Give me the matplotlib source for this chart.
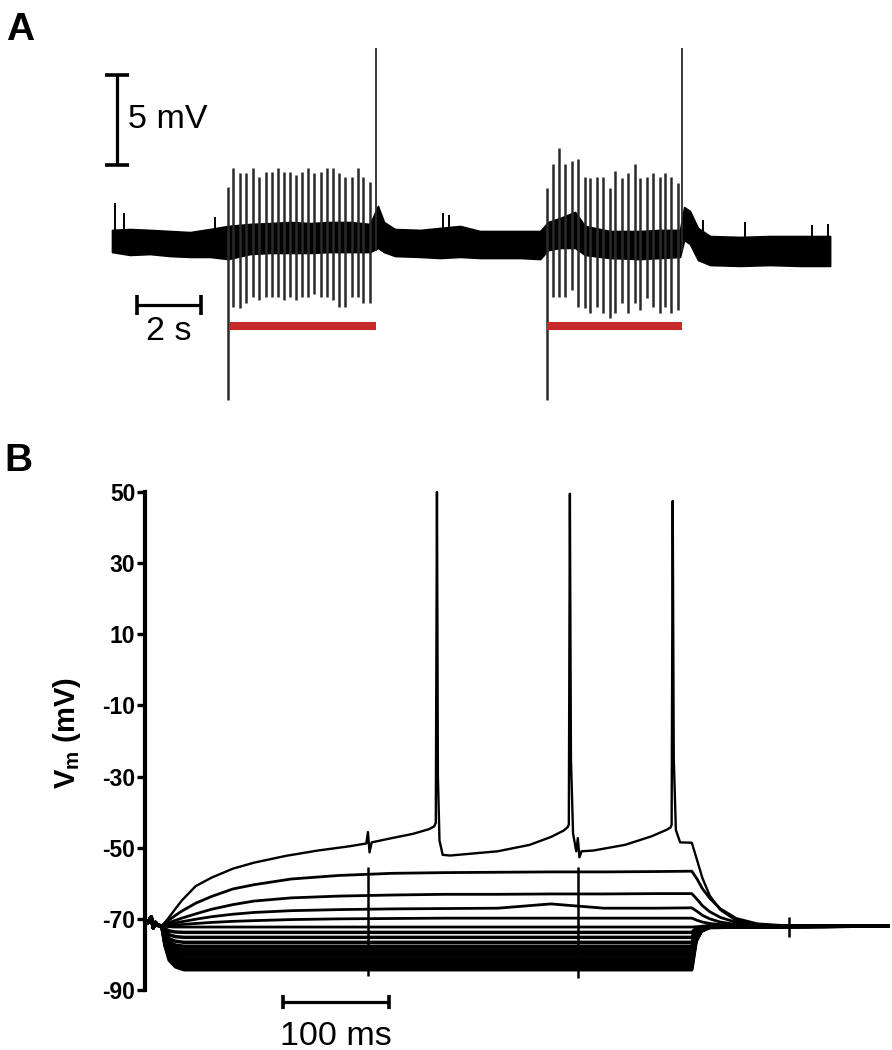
import numpy as np
import matplotlib
matplotlib.use('Agg')
import matplotlib.pyplot as plt

plt.rcParams['font.family'] = ['Liberation Sans', 'DejaVu Sans']
plt.rcParams['mathtext.fontset'] = 'custom'
plt.rcParams['mathtext.rm'] = 'Liberation Sans:bold'
plt.rcParams['mathtext.bf'] = 'Liberation Sans:bold'
plt.rcParams['mathtext.it'] = 'Liberation Sans:bold'

# ---------------- Panel A data (time in s, voltage in mV relative to baseline) ----
A_ENV_T = [0, 0.56, 1.19, 1.81, 2.44, 3.06, 3.63, 4.31, 4.94, 5.56, 6.19, 6.81, 7.44, 8.06,
           8.31, 8.5, 8.84, 9.63, 10.25, 10.88, 11.5, 12.13, 12.75, 13.38, 13.63, 14.0, 14.47,
           14.78, 15.56, 16.5, 17.13, 17.75, 17.88, 18.06, 18.31, 18.69, 19.63, 20.56, 21.5, 22.44]
A_ENV_HI = [0.56, 0.61, 0.56, 0.5, 0.44, 0.61, 0.78, 0.89, 0.94, 1.0, 0.94, 1.0, 1.0, 0.89,
            1.89, 1.0, 0.61, 0.56, 0.67, 0.78, 0.5, 0.5, 0.5, 0.5, 1.0, 1.22, 1.56,
            0.78, 0.5, 0.5, 0.56, 0.56, 1.83, 1.61, 0.67, 0.22, 0.17, 0.22, 0.22, 0.22]
A_ENV_LO = [-0.67, -0.83, -0.78, -0.89, -0.94, -0.94, -1.06, -0.78, -0.72, -0.72, -0.72, -0.67,
            -0.67, -0.67, -0.44, -0.67, -0.89, -0.94, -1.0, -0.94, -1.0, -1.0, -1.0, -1.06,
            -0.56, -0.44, -0.44, -0.83, -1.0, -1.06, -1.0, -0.94, 0.0, -0.22, -1.11, -1.39,
            -1.44, -1.39, -1.44, -1.44]

NOISE_T = [0.09, 0.38, 3.22, 10.34, 10.53, 18.47, 19.78, 21.88, 22.38]
NOISE_TOP = [2.06, 1.5, 1.28, 1.5, 1.39, 1.11, 1.0, 0.83, 0.89]

TRAIN1_T = [3.64, 3.79, 4.00, 4.19, 4.42, 4.60, 4.80, 4.99, 5.18, 5.38, 5.56, 5.75,
            5.94, 6.13, 6.32, 6.52, 6.71, 6.90, 7.10, 7.29, 7.49, 7.68, 7.85, 8.06]
TRAIN1_TOP = [2.94, 4.0, 3.72, 3.72, 4.0, 3.5, 3.78, 3.78, 4.0, 3.78, 3.78, 3.61,
              3.78, 4.0, 3.72, 3.78, 4.0, 4.0, 3.72, 3.52, 3.52, 4.0, 3.52, 3.24]
TRAIN1_BOT = [-8.89, -3.72, -3.78, -3.5, -3.17, -3.33, -3.17, -3.17, -3.17, -3.33, -3.17, -3.33,
              -3.17, -3.17, -3.0, -3.17, -3.17, -3.33, -3.72, -3.72, -3.17, -3.17, -3.5, -3.5]

TRAIN2_T = [13.60, 13.77, 13.98, 14.16, 14.38, 14.55, 14.77, 14.94, 15.15, 15.33, 15.55,
            15.73, 15.93, 16.12, 16.34, 16.51, 16.73, 16.90, 17.11, 17.29, 17.48, 17.69]
TRAIN2_TOP = [2.89, 4.22, 5.11, 4.22, 4.39, 4.5, 3.5, 3.44, 3.5, 3.5, 2.89,
              3.83, 3.44, 3.72, 4.22, 3.44, 3.5, 3.72, 3.5, 3.72, 3.5, 3.17]
TRAIN2_BOT = [-8.89, -3.17, -3.17, -3.17, -2.78, -3.72, -3.78, -4.06, -3.72, -4.06, -4.33,
              -4.06, -3.5, -4.06, -3.5, -3.89, -3.22, -3.72, -4.06, -3.72, -4.06, -3.89]

TALL_T = [8.25, 17.80]
TALL_TOP = [10.67, 10.67]
TALL_BOT = [-0.6, -0.6]

STIM_ON = [3.66, 13.59]
STIM_OFF = [8.25, 17.81]
STIM_LEVEL = -4.78

SCALE_MV = 5
SCALE_S = 2

# ---------------- Panel B data (time in ms, Vm in mV) ----------------
B_TICKS = [50, 30, 10, -10, -30, -50, -70, -90]
B_TICK_LABELS = ['50', '30', '10', '-10', '-30', '-50', '-70', '-90']

PRE_T = [0, 3, 5, 7, 9, 13]
PRE_V = [-71, -69.5, -72.5, -71, -71.8, -72]
END_T = [698]
END_V = [-72]

TOP_T = [16, 20, 25, 32, 45, 60, 80, 100, 130, 160, 190, 206, 207.5, 209, 211, 230, 250,
         265, 270, 271.5, 272.6, 273.5, 275, 278, 285, 300, 330, 360, 380, 392, 396, 397,
         398, 399, 401, 404, 405.5, 407, 409, 420, 450, 475, 489, 493, 494, 495, 496, 498,
         502, 513, 518, 523, 530, 540, 555, 575, 600, 650]
TOP_V = [-71, -69.5, -67.5, -64.8, -60.8, -58.4, -55.9, -54.2, -52.3, -50.8, -49.6, -48.8,
         -45.6, -51.3, -48.5, -47.3, -46.1, -44.8, -44.0, -43.0, 50, -30, -48, -52, -52.2,
         -51.8, -51, -49.2, -47, -45.2, -44.2, -43.5, 49.5, -25, -46, -51, -47.3, -52.7,
         -51, -50.8, -49.2, -46.8, -45, -44.3, -43.5, 47.5, -25, -45, -48.5, -48.6, -53.5,
         -58.5, -63.5, -67.5, -70.5, -71.6, -72, -72]

DEP_T = [16, 20, 25, 32, 45, 60, 80, 100, 135, 180, 230, 280, 330, 380, 430, 480, 513,
         518, 523, 530, 540, 555, 575, 600]
DEP_V = [
    [-71.2, -70.3, -69.2, -67.8, -65.6, -63.7, -61.6, -60.4, -58.8, -57.8, -57.2, -57.0,
     -56.9, -56.8, -56.8, -56.7, -56.6, -58.8, -61.5, -64.2, -67.2, -69.9, -71.4, -71.9],
    [-71.6, -71.1, -70.5, -69.8, -68.6, -67.3, -66.0, -65.0, -64.1, -63.6, -63.3, -63.1,
     -63.1, -63.0, -63.0, -62.9, -62.9, -64.5, -66.3, -68.0, -69.6, -71.0, -71.7, -72.0],
    [-71.8, -71.5, -71.2, -70.8, -70.1, -69.4, -68.7, -68.2, -67.7, -67.4, -67.2, -67.1,
     -67.0, -65.8, -67.0, -67.0, -66.9, -67.9, -69.0, -70.0, -70.9, -71.6, -71.9, -72.0],
    [-72.0, -71.9, -71.8, -71.6, -71.3, -71.0, -70.7, -70.5, -70.2, -70.0, -69.9, -69.8,
     -69.8, -69.8, -69.8, -69.8, -69.8, -70.4, -70.9, -71.3, -71.6, -71.9, -72.0, -72.0],
    [-72.1, -72.2, -72.3, -72.3, -72.3, -72.3, -72.3, -72.3, -72.3, -72.3, -72.3, -72.3,
     -72.3, -72.3, -72.3, -72.3, -72.3, -72.2, -72.1, -72.0, -72.0, -72.0, -72.0, -72.0],
]

HYP_T = [16, 20, 26, 34, 513, 517, 522, 530]
HYP_V = [
    [-72.8, -73.4, -73.7, -73.8, -73.8, -72.7, -72.2, -72.0],
    [-73.4, -74.5, -75.0, -75.2, -75.2, -73.2, -72.4, -72.1],
    [-74.1, -75.6, -76.3, -76.6, -76.6, -73.8, -72.6, -72.1],
    [-74.6, -76.5, -77.4, -77.7, -77.7, -74.2, -72.7, -72.2],
    [-75.0, -77.2, -78.2, -78.6, -78.6, -74.5, -72.8, -72.2],
    [-75.3, -77.8, -79.0, -79.4, -79.4, -74.8, -72.9, -72.2],
    [-75.7, -78.4, -79.7, -80.2, -80.2, -75.0, -73.0, -72.3],
    [-76.0, -79.0, -80.5, -81.0, -81.0, -75.3, -73.1, -72.3],
    [-76.3, -79.5, -81.1, -81.7, -81.7, -75.5, -73.2, -72.3],
    [-76.6, -80.1, -81.8, -82.4, -82.4, -75.8, -73.3, -72.3],
    [-76.9, -80.6, -82.4, -83.1, -83.1, -76.0, -73.3, -72.4],
    [-77.2, -81.1, -83.0, -83.7, -83.7, -76.2, -73.4, -72.4],
    [-77.5, -81.6, -83.5, -84.3, -84.3, -76.4, -73.5, -72.4],
]

ART_T = [208, 406, 605]
ART_HI = [-55.5, -55.5, -69.5]
ART_LO = [-86.0, -86.5, -75.0]

SCALE_MS = 100

# ---------------- Figure ----------------
W, H = 892, 1050
fig = plt.figure(figsize=(W / 100, H / 100), dpi=100)


def px_rect(x0, y0, x1, y1):
    return [x0 / W, 1 - y1 / H, (x1 - x0) / W, (y1 - y0) / H]


# ---- Panel A ----
axA = fig.add_axes(px_rect(0, 0, 892, 430))
axA.set_xlim((0 - 112) / 32, (892 - 112) / 32)
axA.set_ylim((240 - 430) / 18, (240 - 0) / 18)
axA.axis('off')

pulse_col = '#2a2a2a'
axA.vlines(TRAIN1_T, TRAIN1_BOT, TRAIN1_TOP, color=pulse_col, lw=1.8)
axA.vlines(TRAIN2_T, TRAIN2_BOT, TRAIN2_TOP, color=pulse_col, lw=1.8)
axA.vlines(TALL_T, TALL_BOT, TALL_TOP, color=pulse_col, lw=1.3)
axA.fill_between(A_ENV_T, A_ENV_LO, A_ENV_HI, color='black', lw=1.2, edgecolor='black')
axA.vlines(NOISE_T, 0, NOISE_TOP, color='black', lw=1.4)
axA.hlines([STIM_LEVEL] * len(STIM_ON), STIM_ON, STIM_OFF, color='#c62a2a', lw=5.8,
           capstyle='butt')

# 5 mV scale bar
sb_t = (117 - 112) / 32
sb_v0 = (240 - 165) / 18
axA.plot([sb_t, sb_t], [sb_v0, sb_v0 + SCALE_MV], color='black', lw=2.3, solid_capstyle='butt')
axA.hlines([sb_v0, sb_v0 + SCALE_MV], sb_t - 0.36, sb_t + 0.36, color='black', lw=2.6)
axA.text((128 - 112) / 32, sb_v0 + SCALE_MV / 2, '5 mV', fontsize=24.5, ha='left', va='center')

# 2 s scale bar
tb_t0 = (137 - 112) / 32
tb_v = (240 - 305) / 18
axA.plot([tb_t0, tb_t0 + SCALE_S], [tb_v, tb_v], color='black', lw=2.3, solid_capstyle='butt')
axA.vlines([tb_t0, tb_t0 + SCALE_S], tb_v - 0.56, tb_v + 0.56, color='black', lw=2.6)
axA.text(tb_t0 + SCALE_S / 2, (240 - 331) / 18, '2 s', fontsize=24.5, ha='center', va='center')

# ---- Panel B ----
axB = fig.add_axes(px_rect(145, 492, 892, 990))
axB.set_xlim((145 - 148) / 1.06, (892 - 148) / 1.06)
axB.set_ylim(-90, 50)
for s in ['top', 'right', 'bottom']:
    axB.spines[s].set_visible(False)
axB.spines['left'].set_linewidth(3.0)
axB.set_xticks([])
axB.set_yticks(B_TICKS)
axB.set_yticklabels(B_TICK_LABELS, fontweight='bold', fontsize=16.5)
axB.tick_params(axis='y', length=6, width=2.4, pad=1, direction='out')

for vals in HYP_V:
    axB.plot(PRE_T + HYP_T + END_T, PRE_V + vals + END_V, color='black', lw=2.5,
             solid_joinstyle='round', clip_on=False)
for vals in DEP_V:
    axB.plot(PRE_T + DEP_T + END_T, PRE_V + vals + END_V, color='black', lw=2.0,
             solid_joinstyle='round', clip_on=False)
axB.plot(PRE_T + TOP_T + END_T, PRE_V + TOP_V + END_V, color='black', lw=1.7,
         solid_joinstyle='round', clip_on=False)
axB.vlines(ART_T, ART_LO, ART_HI, color='black', lw=1.8)

# 100 ms scale bar
mb_t0 = (283 - 148) / 1.06
mb_v = -90 - (1002 - 990) / 3.555
axB.plot([mb_t0, mb_t0 + SCALE_MS], [mb_v, mb_v], color='black', lw=2.3,
         solid_capstyle='butt', clip_on=False)
axB.vlines([mb_t0, mb_t0 + SCALE_MS], mb_v - 2.0, mb_v + 2.0, color='black', lw=2.6,
           clip_on=False)
axB.text(mb_t0 + SCALE_MS / 2, -90 - (1036 - 990) / 3.555, '100 ms', fontsize=24.5,
         ha='center', va='center', clip_on=False)

fig.text(67 / W, 1 - 733 / H, r'$\mathbf{V_m}$ (mV)', rotation=90, fontsize=21,
         fontweight='bold', ha='center', va='center')

fig.text(6 / W, 1 - 12 / H, 'A', fontsize=28, fontweight='bold', ha='left', va='top')
fig.text(4 / W, 1 - 443 / H, 'B', fontsize=28, fontweight='bold', ha='left', va='top')

fig.savefig('out.png', dpi=100)
